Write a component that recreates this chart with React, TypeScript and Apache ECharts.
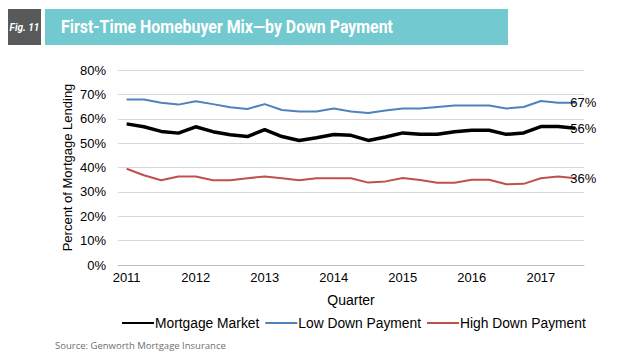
import React, { useEffect, useRef } from "react";
import * as echarts from "echarts";

const quarters = [
  "2011Q1", "2011Q2", "2011Q3", "2011Q4",
  "2012Q1", "2012Q2", "2012Q3", "2012Q4",
  "2013Q1", "2013Q2", "2013Q3", "2013Q4",
  "2014Q1", "2014Q2", "2014Q3", "2014Q4",
  "2015Q1", "2015Q2", "2015Q3", "2015Q4",
  "2016Q1", "2016Q2", "2016Q3", "2016Q4",
  "2017Q1", "2017Q2", "2017Q3",
];
const mortgageMarket = [
  57.9, 56.7, 54.8, 54.1, 56.7, 54.7, 53.4, 52.7, 55.5, 52.7, 51.1, 52.2, 53.5,
  53.2, 51.1, 52.5, 54.2, 53.6, 53.6, 54.7, 55.3, 55.3, 53.6, 54.2, 56.8, 56.8, 56.1,
];
const lowDownPayment = [
  67.9, 67.9, 66.6, 65.8, 67.2, 66.0, 64.7, 64.0, 66.0, 63.6, 63.0, 63.0, 64.2,
  63.0, 62.4, 63.4, 64.2, 64.2, 64.8, 65.4, 65.4, 65.4, 64.2, 64.8, 67.3, 66.6, 66.6,
];
const highDownPayment = [
  39.5, 36.8, 34.8, 36.3, 36.3, 34.8, 34.8, 35.6, 36.3, 35.6, 34.8, 35.6, 35.6,
  35.6, 33.8, 34.3, 35.7, 34.9, 33.7, 33.7, 35.0, 35.0, 33.1, 33.3, 35.6, 36.3, 35.6,
];
const yTicks = [0, 10, 20, 30, 40, 50, 60, 70, 80];

const FONT = "'Liberation Sans', Arial, sans-serif";

export default function App() {
  const ref = useRef<HTMLDivElement>(null);
  useEffect(() => {
    if (!ref.current) return;
    const chart = echarts.init(ref.current, undefined, { renderer: "svg" });
    const endLabel = {
      show: true,
      formatter: (p: any) => Math.round(p.value) + "%",
      distance: -5,
      color: "#000",
      fontSize: 13,
      fontFamily: FONT,
    };
    chart.setOption({
      animation: false,
      backgroundColor: "#fff",
      graphic: [
        { type: "rect", shape: { x: 8, y: 9, width: 33, height: 36 }, style: { fill: "#58595b" } },
        { type: "rect", shape: { x: 45, y: 9, width: 463, height: 36 }, style: { fill: "#72c9cf" } },
        {
          type: "text",
          x: 24.5,
          y: 27,
          style: {
            text: "Fig. 11",
            fill: "#fff",
            font: "italic bold 10px Roboto, sans-serif",
            align: "center",
            verticalAlign: "middle",
          },
        },
        {
          type: "text",
          x: 61,
          y: 27,
          scaleX: 0.86,
          style: {
            text: "First-Time Homebuyer Mix\u2014by Down Payment",
            fill: "#fff",
            font: "bold 18.5px Roboto, sans-serif",
            align: "left",
            verticalAlign: "middle",
          },
        },
        {
          type: "text",
          x: 55,
          y: 345,
          style: {
            text: "Source: Genworth Mortgage Insurance",
            fill: "#6d6e71",
            font: "9.5px 'Open Sans', sans-serif",
            align: "left",
            verticalAlign: "middle",
          },
        },
      ],
      grid: { left: 118, right: 34, top: 70, bottom: 88, containLabel: false },
      legend: {
        left: 116,
        top: 311,
        itemWidth: 32,
        itemHeight: 14,
        itemGap: 5,
        itemStyle: { opacity: 0, borderWidth: 0 },
        textStyle: { fontSize: 13.8, fontFamily: FONT, color: "#000", padding: [0, 0, 0, -4] },
        data: ["Mortgage Market", "Low Down Payment", "High Down Payment"],
      },
      xAxis: {
        type: "category",
        data: quarters,
        boundaryGap: true,
        name: "Quarter",
        nameLocation: "middle",
        nameGap: 28,
        nameMoveOverlap: false,
        nameTextStyle: { fontSize: 14, fontFamily: FONT, color: "#000" },
        axisLine: { lineStyle: { color: "#bfbfbf", width: 1 } },
        axisTick: { interval: 3, length: 5, lineStyle: { color: "#bfbfbf" } },
        axisLabel: {
          interval: 3,
          formatter: (v: string) => v.slice(0, 4),
          fontSize: 13,
          fontFamily: FONT,
          color: "#000",
          margin: 6,
        },
        splitLine: { show: false },
      },
      yAxis: {
        type: "value",
        min: yTicks[0],
        max: yTicks[yTicks.length - 1],
        interval: 10,
        name: "Percent of Mortgage Lending",
        nameLocation: "middle",
        nameGap: 44,
        nameMoveOverlap: false,
        nameTextStyle: { fontSize: 13, fontFamily: FONT, color: "#000" },
        axisLine: { show: false },
        axisTick: { show: false },
        axisLabel: {
          formatter: "{value}%",
          fontSize: 13,
          fontFamily: FONT,
          color: "#000",
          margin: 12,
        },
        splitLine: { lineStyle: { color: "#d9d9d9", width: 1 } },
      },
      series: [
        {
          name: "Mortgage Market",
          type: "line",
          data: mortgageMarket,
          symbol: "none",
          color: "#000000",
          lineStyle: { color: "#000000", width: 3.5 },
          endLabel,
          z: 3,
        },
        {
          name: "Low Down Payment",
          type: "line",
          data: lowDownPayment,
          symbol: "none",
          color: "#4f81bd",
          lineStyle: { color: "#4f81bd", width: 2 },
          endLabel,
        },
        {
          name: "High Down Payment",
          type: "line",
          data: highDownPayment,
          symbol: "none",
          color: "#c0504d",
          lineStyle: { color: "#c0504d", width: 2 },
          endLabel,
        },
      ],
    });
    return () => chart.dispose();
  }, []);
  return (
    <div
      ref={ref}
      style={{ position: "fixed", left: 0, top: 0, width: 618, height: 353 }}
    />
  );
}
